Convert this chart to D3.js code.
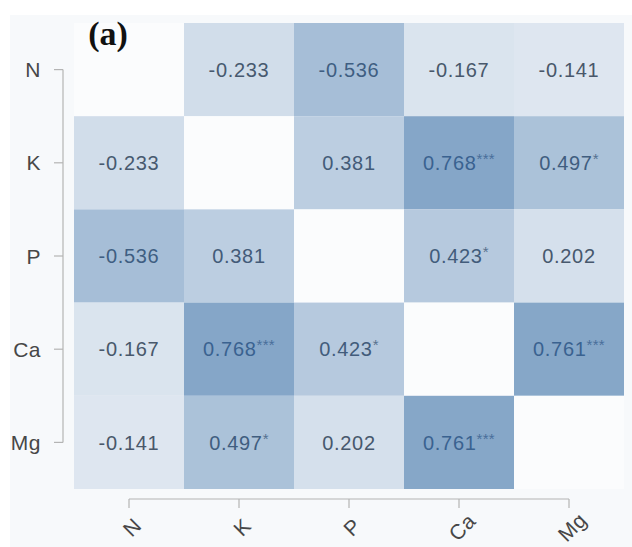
<!DOCTYPE html>
<html lang="en">
<head>
    <meta charset="UTF-8">
    <title>Correlation heatmap (a)</title>
    <script src="https://d3js.org/d3.v7.js"></script>
</head>
<body style="margin: 0; background: white">
<script>
    // nutrients and their pairwise correlations (diagonal left blank)
    const vars = ["N", "K", "P", "Ca", "Mg"];
    const corr = [
        [null, -0.233, -0.536, -0.167, -0.141],
        [-0.233, null, 0.381, 0.768, 0.497],
        [-0.536, 0.381, null, 0.423, 0.202],
        [-0.167, 0.768, 0.423, null, 0.761],
        [-0.141, 0.497, 0.202, 0.761, null]
    ];
    const stars = [
        ["", "", "", "", ""],
        ["", "", "", "***", "*"],
        ["", "", "", "*", ""],
        ["", "***", "*", "", "***"],
        ["", "*", "", "***", ""]
    ];

    const width = 632, height = 547;
    const margin = {top: 23, right: 8, bottom: 58, left: 74};

    const svg = d3.select("body")
        .append("svg")
        .attr("width", width)
        .attr("height", height);

    // panel background
    svg.append("rect")
        .attr("x", 10).attr("y", 15)
        .attr("width", width - 10).attr("height", height - 15)
        .attr("fill", "#f7f9fb");

    const x = d3.scaleBand()
        .domain(vars)
        .range([margin.left, width - margin.right]);
    const y = d3.scaleBand()
        .domain(vars)
        .range([margin.top, height - margin.bottom]);

    const fill = d3.scaleLinear()
        .domain([0, 0.768])
        .range(["#f2f5f9", "#85a6c8"]);
    const ink = d3.scaleLinear()
        .domain([0, 0.768])
        .range(["#4c5561", "#3a6290"]);

    const cells = [];
    vars.forEach((rv, i) => {
        vars.forEach((cv, j) => {
            cells.push({row: rv, col: cv, r: corr[i][j], s: stars[i][j]});
        });
    });

    const g = svg.append("g");
    g.selectAll("rect")
        .data(cells)
        .join("rect")
        .attr("x", d => x(d.col))
        .attr("y", d => y(d.row))
        .attr("width", x.bandwidth())
        .attr("height", y.bandwidth())
        .attr("fill", d => d.r === null ? "#fbfcfd" : fill(Math.abs(d.r)));

    const lbl = g.selectAll("text")
        .data(cells.filter(d => d.r !== null))
        .join("text")
        .attr("x", d => x(d.col) + x.bandwidth() / 2)
        .attr("y", d => y(d.row) + y.bandwidth() / 2)
        .attr("dy", ".36em")
        .attr("text-anchor", "middle")
        .style("font-family", "'Liberation Sans', Arial, sans-serif")
        .style("font-size", "20px")
        .style("letter-spacing", "0.7px")
        .attr("fill", d => ink(Math.abs(d.r)));
    lbl.append("tspan").text(d => d.r.toFixed(3));
    lbl.append("tspan")
        .attr("dy", "-6")
        .style("font-size", "15px")
        .style("letter-spacing", "0.3px")
        .attr("opacity", 0.8)
        .text(d => d.s);

    // range-frame style axes
    const axisColor = "#b4b4b4";
    const yAxis = svg.append("g");
    yAxis.append("line")
        .attr("x1", 63).attr("x2", 63)
        .attr("y1", y("N") + y.bandwidth() / 2)
        .attr("y2", y("Mg") + y.bandwidth() / 2)
        .attr("stroke", axisColor).attr("stroke-width", 1.2);
    const yt = yAxis.selectAll("g")
        .data(vars)
        .join("g")
        .attr("transform", d => `translate(0, ${y(d) + y.bandwidth() / 2})`);
    yt.append("line")
        .attr("x1", 54).attr("x2", 63)
        .attr("stroke", axisColor).attr("stroke-width", 1.2);
    yt.append("text")
        .attr("x", 41)
        .attr("dy", ".36em")
        .attr("text-anchor", "end")
        .style("font-family", "'Liberation Sans', Arial, sans-serif")
        .style("font-size", "21px")
        .style("letter-spacing", "0.5px")
        .attr("fill", "#474747")
        .text(d => d);

    const xAxis = svg.append("g");
    xAxis.append("line")
        .attr("x1", x("N") + x.bandwidth() / 2)
        .attr("x2", x("Mg") + x.bandwidth() / 2)
        .attr("y1", 499).attr("y2", 499)
        .attr("stroke", axisColor).attr("stroke-width", 1.2);
    const xt = xAxis.selectAll("g")
        .data(vars)
        .join("g")
        .attr("transform", d => `translate(${x(d) + x.bandwidth() / 2}, 0)`);
    xt.append("line")
        .attr("y1", 499).attr("y2", 508)
        .attr("stroke", axisColor).attr("stroke-width", 1.2);
    xt.append("text")
        .attr("transform", "translate(3, 527) rotate(-45)")
        .attr("dy", ".36em")
        .attr("text-anchor", "middle")
        .style("font-family", "'Liberation Sans', Arial, sans-serif")
        .style("font-size", "21px")
        .style("letter-spacing", "0.5px")
        .attr("fill", "#474747")
        .text(d => d);

    // panel tag
    svg.append("text")
        .attr("x", 108)
        .attr("y", 45)
        .attr("text-anchor", "middle")
        .style("font-family", "'Liberation Serif', 'Times New Roman', serif")
        .style("font-weight", "bold")
        .style("font-size", "34px")
        .attr("fill", "#111")
        .text("(a)");
</script>
</body>
</html>
